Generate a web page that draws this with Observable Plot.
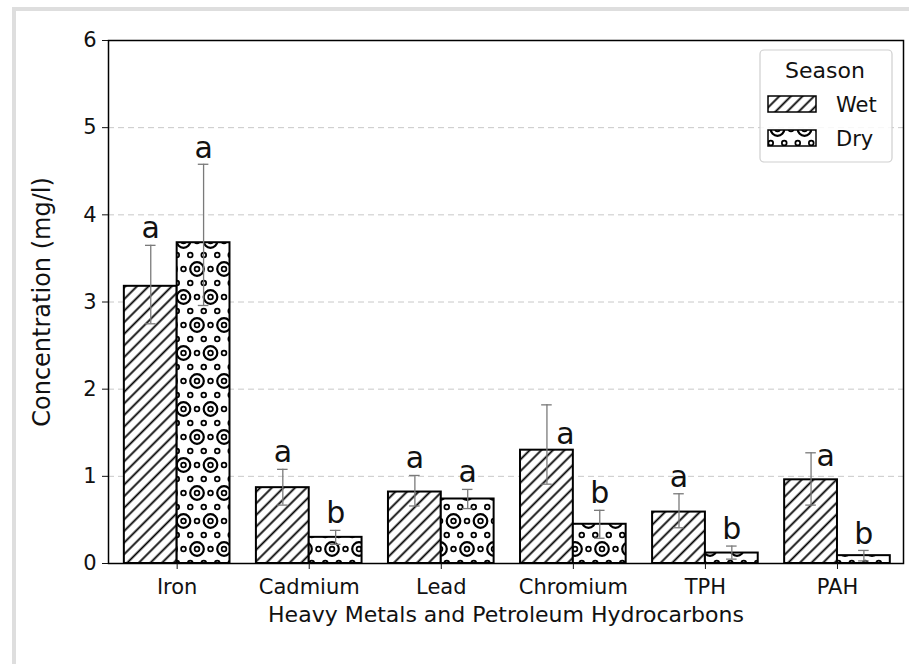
<!DOCTYPE html>
<html><head><meta charset="utf-8">
<script src="https://cdn.jsdelivr.net/npm/d3@7"></script>
<script src="https://cdn.jsdelivr.net/npm/@observablehq/plot@0.6"></script>
<style>body{margin:0;background:#fff;} #chart{width:909px;height:664px;}</style>
</head><body><div id="chart"></div>
<script>
const categories = ["Iron", "Cadmium", "Lead", "Chromium", "TPH", "PAH"];
const seasons = ["Wet", "Dry"];
const wetMean = [3.18, 0.87, 0.82, 1.30, 0.59, 0.96];
const wetLo   = [2.75, 0.67, 0.66, 0.91, 0.41, 0.67];
const wetHi   = [3.65, 1.08, 1.01, 1.82, 0.80, 1.27];
const dryMean = [3.68, 0.30, 0.74, 0.45, 0.12, 0.09];
const dryLo   = [2.96, 0.22, 0.63, 0.29, 0.05, 0.03];
const dryHi   = [4.58, 0.38, 0.85, 0.61, 0.20, 0.15];
const wetLetters = ["a", "a", "a", "a", "a", "a"];
const dryLetters = ["a", "b", "a", "b", "b", "b"];
const wetLetterY = [3.73, 1.16, 1.10, 1.37, 0.88, 1.12];
const dryLetterY = [4.65, 0.47, 0.93, 0.69, 0.28, 0.22];
const wetLetterShift = [0, 0, 0, 0.14, 0, 0.11];
const dryLetterShift = [0, 0, 0, 0, 0, 0];
const yTicks = [0, 1, 2, 3, 4, 5, 6];

const W = 0.4;
const wet = categories.map((c, i) => ({i, cat: c, mean: wetMean[i], lo: wetLo[i], hi: wetHi[i],
  letter: wetLetters[i], ly: wetLetterY[i], x1: i - W, x2: i, xc: i - W / 2, lx: i - W / 2 + wetLetterShift[i]}));
const dry = categories.map((c, i) => ({i, cat: c, mean: dryMean[i], lo: dryLo[i], hi: dryHi[i],
  letter: dryLetters[i], ly: dryLetterY[i], x1: i, x2: i + W, xc: i + W / 2, lx: i + W / 2 + dryLetterShift[i]}));
const both = wet.concat(dry);

const font = "DejaVu Sans";
const plot = Plot.plot({
  width: 909, height: 664,
  marginLeft: 108, marginRight: 6, marginTop: 40, marginBottom: 101,
  style: {fontFamily: font, background: "white", color: "#111"},
  x: {type: "linear", domain: [-0.52, 5.5]},
  y: {domain: [0, 6]},
  marks: [
    Plot.gridY([1, 2, 3, 4, 5], {stroke: "#c8c8c8", strokeOpacity: 1, strokeDasharray: "6,4", strokeWidth: 1}),
    Plot.rect(wet, {x1: "x1", x2: "x2", y1: 0, y2: "mean", fill: "url(#hatchWet)", stroke: "black", strokeWidth: 2}),
    Plot.rect(dry, {x1: "x1", x2: "x2", y1: 0, y2: "mean", fill: "url(#hatchDry)", stroke: "black", strokeWidth: 2}),
    Plot.ruleX(both, {x: "xc", y1: "lo", y2: "hi", stroke: "#7a7a7a", strokeWidth: 1.3}),
    Plot.ruleY(both, {y: "hi", x1: d => d.xc - 0.04, x2: d => d.xc + 0.04, stroke: "#7a7a7a", strokeWidth: 1.3}),
    Plot.ruleY(both, {y: "lo", x1: d => d.xc - 0.04, x2: d => d.xc + 0.04, stroke: "#7a7a7a", strokeWidth: 1.3}),
    Plot.text(both, {x: "lx", y: "ly", text: "letter", lineAnchor: "bottom", fontSize: 30, fill: "#111"}),
    Plot.frame({stroke: "black", strokeWidth: 1.5}),
    Plot.axisY({ticks: yTicks, tickSize: 6, tickPadding: 6, fontSize: 21, label: null, tickFormat: d => String(d)}),
    Plot.axisX({ticks: [0, 1, 2, 3, 4, 5], tickFormat: i => categories[i], tickSize: 6, tickPadding: 10, fontSize: 21, label: null}),
    Plot.text(["Concentration (mg/l)"], {frameAnchor: "left", textAnchor: "middle", dx: -66, rotate: -90, fontSize: 24}),
    Plot.text(["Heavy Metals and Petroleum Hydrocarbons"], {frameAnchor: "bottom", textAnchor: "middle", dy: 51, fontSize: 22, lineAnchor: "middle"})
  ]
});

const svg = d3.select(plot);
const defs = svg.insert("defs", ":first-child");
const pw = defs.append("pattern").attr("id", "hatchWet").attr("patternUnits", "userSpaceOnUse")
  .attr("width", 8.2).attr("height", 8.2).attr("patternTransform", "rotate(45)");
pw.append("rect").attr("width", 8.2).attr("height", 8.2).attr("fill", "white");
pw.append("line").attr("x1", 4.1).attr("y1", -1).attr("x2", 4.1).attr("y2", 9.2).attr("stroke", "black").attr("stroke-width", 1.8);

const pd = defs.append("pattern").attr("id", "hatchDry").attr("patternUnits", "userSpaceOnUse")
  .attr("x", 8).attr("y", 45).attr("width", 27).attr("height", 56);
pd.append("rect").attr("width", 27).attr("height", 56).attr("fill", "white");
[[0, 0], [27, 0], [0, 56], [27, 56], [13.5, 28]].forEach(([cx, cy]) =>
  pd.append("circle").attr("cx", cx).attr("cy", cy).attr("r", 6.8).attr("fill", "none").attr("stroke", "black").attr("stroke-width", 2.2));
[[0, 0], [13.5, 0], [27, 0], [6.75, 14], [20.25, 14], [0, 28], [13.5, 28], [27, 28], [6.75, 42], [20.25, 42], [0, 56], [13.5, 56], [27, 56]]
  .forEach(([cx, cy]) =>
  pd.append("circle").attr("cx", cx).attr("cy", cy).attr("r", 2.4).attr("fill", "none").attr("stroke", "black").attr("stroke-width", 1.7));

// outer light frame of the figure
svg.insert("path", "defs + *").attr("d", "M14,664 V9 H909").attr("fill", "none").attr("stroke", "#dedede").attr("stroke-width", 4);

// legend
const lg = svg.append("g").attr("font-family", font).attr("fill", "#111");
lg.append("rect").attr("x", 760).attr("y", 50).attr("width", 132).attr("height", 112).attr("rx", 4)
  .attr("fill", "white").attr("fill-opacity", 0.85).attr("stroke", "#cfcfcf").attr("stroke-width", 1.2);
lg.append("text").attr("x", 825).attr("y", 78).attr("text-anchor", "middle").attr("font-size", 22).text("Season");
seasons.forEach((s, k) => {
  const y0 = 96 + k * 34;
  lg.append("rect").attr("x", 768).attr("y", y0).attr("width", 48).attr("height", 16)
    .attr("fill", k === 0 ? "url(#hatchWet)" : "url(#hatchDry)").attr("stroke", "black").attr("stroke-width", 1.5);
  lg.append("text").attr("x", 836).attr("y", y0 + 16).attr("text-anchor", "start").attr("font-size", 21).text(s);
});

document.getElementById("chart").appendChild(plot);
</script>
</body></html>
